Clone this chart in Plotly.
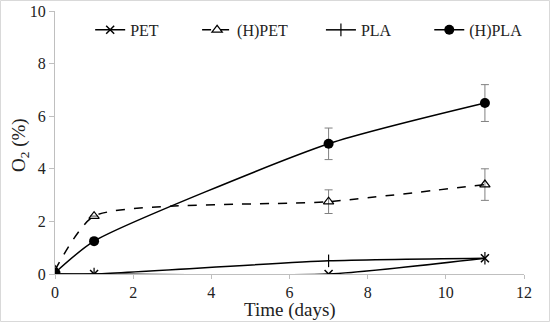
import plotly.graph_objects as go

days = [0, 1, 7, 11]
pet = [0, 0, 0, 0.6]
hpet = [0.15, 2.2, 2.75, 3.4]
hpet_err = [0, 0, 0.45, 0.6]
pla = [0, 0, 0.5, 0.6]
hpla = [0.05, 1.25, 4.95, 6.5]
hpla_err = [0, 0, 0.6, 0.7]

font = "Liberation Serif"
sm = 0.6
fig = go.Figure()
fig.add_trace(go.Scatter(x=days, y=pet, name="PET", mode="lines+markers", legend="legend",
                         line=dict(color="black", width=1.5, shape="spline", smoothing=sm),
                         marker=dict(symbol="x-thin", size=8, line=dict(color="black", width=1.5))))
fig.add_trace(go.Scatter(x=days, y=hpet, name="(H)PET", mode="lines+markers", legend="legend2",
                         line=dict(color="black", width=1.5, dash="dash", shape="spline", smoothing=sm),
                         marker=dict(symbol="triangle-up-open", size=9, color="black", line=dict(width=1.2)),
                         error_y=dict(type="data", array=hpet_err, color="#808080", thickness=1, width=4)))
fig.add_trace(go.Scatter(x=days, y=pla, name="PLA", mode="lines+markers", legend="legend3",
                         line=dict(color="black", width=1.5, shape="spline", smoothing=sm),
                         marker=dict(symbol="line-ns", size=9, line=dict(color="black", width=1.2))))
fig.add_trace(go.Scatter(x=days, y=hpla, name="(H)PLA", mode="lines+markers", legend="legend4",
                         line=dict(color="black", width=1.5, shape="spline", smoothing=sm),
                         marker=dict(symbol="circle", size=10, color="black"),
                         error_y=dict(type="data", array=hpla_err, color="#808080", thickness=1, width=4)))


def leg(x):
    return dict(orientation="h", x=x, y=0.928, xanchor="left", yanchor="middle",
                font=dict(family=font, size=16, color="#222"), bgcolor="rgba(0,0,0,0)",
                itemwidth=30)


fig.update_layout(
    width=550, height=322,
    margin=dict(l=55, r=26, t=11, b=48, autoexpand=False),
    plot_bgcolor="white", paper_bgcolor="white",
    font=dict(family=font, size=16, color="#222"),
    showlegend=True,
    legend=leg(0.075), legend2=leg(0.303), legend3=leg(0.567), legend4=leg(0.798),
    annotations=[
        dict(text="Time (days)", x=0.501, y=-0.136, xref="paper", yref="paper",
             xanchor="center", yanchor="middle", showarrow=False,
             font=dict(family=font, size=19, color="#222")),
        dict(text="O<sub>2</sub> (%)", x=-0.075, y=0.49, xref="paper", yref="paper",
             xanchor="center", yanchor="middle", showarrow=False, textangle=-90,
             font=dict(family=font, size=19, color="#222")),
    ],
    xaxis=dict(range=[0, 12], dtick=2, showgrid=False, zeroline=False,
               showline=True, linecolor="#bfbfbf", linewidth=1,
               ticks="outside", ticklen=4, tickcolor="#bfbfbf",
               tickfont=dict(family=font, size=16), automargin=False),
    yaxis=dict(range=[0, 10], dtick=2, showgrid=False, zeroline=False,
               showline=True, linecolor="#bfbfbf", linewidth=1,
               ticks="outside", ticklen=5, tickcolor="#bfbfbf",
               tickfont=dict(family=font, size=16), automargin=False),
    shapes=[dict(type="rect", xref="paper", yref="paper",
                 x0=-54.5/469, x1=1+25.5/469, y0=-47.5/263, y1=1+10.5/263,
                 line=dict(color="#d9d9d9", width=1))],
)
fig.write_html("out.html", config={"displayModeBar": False},
               post_script="document.body.style.margin='0';")
